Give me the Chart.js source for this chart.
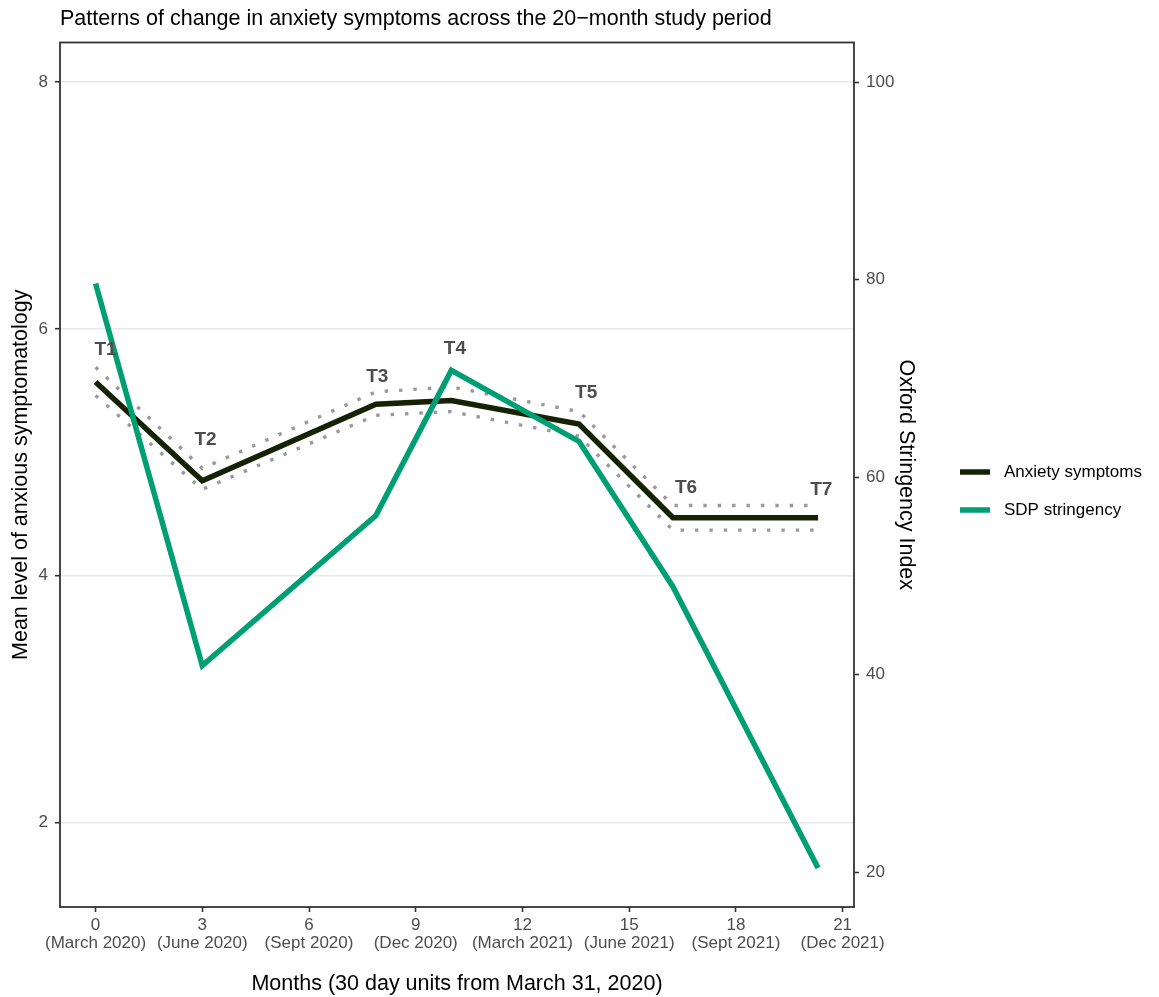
<!DOCTYPE html>
<html>
<head>
<meta charset="utf-8">
<script src="https://cdn.jsdelivr.net/npm/chart.js@4/dist/chart.umd.min.js"></script>
<style>
  html, body { margin: 0; padding: 0; background: #fff; }
  #wrap { position: relative; width: 1159px; height: 997px; }
</style>
</head>
<body>
<div id="wrap"><canvas id="anxietyChart"></canvas></div>
<script>
  // study waves, months since March 31 2020
  const waveLabels = ["T1", "T2", "T3", "T4", "T5", "T6", "T7"];
  const waveMonths = [0, 3, 7.88, 10, 13.59, 16.23, 20.31];
  const anxietyMean = [5.57, 4.77, 5.39, 5.42, 5.23, 4.47, 4.47];
  const anxietyUpper = [5.69, 4.87, 5.49, 5.53, 5.33, 4.57, 4.57];
  const anxietyLower = [5.46, 4.70, 5.30, 5.33, 5.13, 4.37, 4.37];
  const stringency = [79.6, 40.9, 56.1, 70.8, 63.6, 48.9, 20.4];

  // where the wave names sit (months, anxiety units)
  const labelMonths = [0.28, 3.09, 7.92, 10.1, 13.79, 16.6, 20.4];
  const labelLevels = [5.83, 5.10, 5.61, 5.84, 5.48, 4.71, 4.70];

  const monthTicks = [0, 3, 6, 9, 12, 15, 18, 21];
  const monthTickDates = ["(March 2020)", "(June 2020)", "(Sept 2020)", "(Dec 2020)",
    "(March 2021)", "(June 2021)", "(Sept 2021)", "(Dec 2021)"];
  const anxietyTicks = [2, 4, 6, 8];
  const stringencyTicks = [20, 40, 60, 80, 100];

  const FONT = "'Liberation Sans', Arial, Helvetica, sans-serif";
  const INK = "#152204";
  const GREEN = "#009E73";
  const GREY = "#999999";

  const toPoints = (ys) => waveMonths.map((m, i) => ({ x: m, y: ys[i] }));
  const fixTicks = (list) => (scale) => { scale.ticks = list.map((v) => ({ value: v })); };

  const decor = {
    id: "decor",
    afterDatasetsDraw(chart) {
      const { ctx, scales } = chart;
      ctx.save();
      ctx.font = "bold 19px " + FONT;
      ctx.fillStyle = "#4d4d4d";
      ctx.textAlign = "center";
      ctx.textBaseline = "middle";
      waveLabels.forEach((t, i) => {
        ctx.fillText(t, scales.x.getPixelForValue(labelMonths[i]), scales.y.getPixelForValue(labelLevels[i]));
      });
      ctx.restore();
    },
    afterDraw(chart) {
      const { ctx, chartArea: a } = chart;
      ctx.save();
      ctx.strokeStyle = "#333";
      ctx.lineWidth = 1.8;
      ctx.strokeRect(a.left, a.top, a.right - a.left, a.bottom - a.top);

      ctx.fillStyle = "#000";
      ctx.textBaseline = "middle";
      ctx.textAlign = "left";
      ctx.font = "21.5px " + FONT;
      ctx.fillText("Patterns of change in anxiety symptoms across the 20\u2212month study period", a.left, 19.5);

      // legend
      const keys = [["Anxiety symptoms", INK, 472], ["SDP stringency", GREEN, 510]];
      ctx.font = "17px " + FONT;
      keys.forEach(([txt, col, y]) => {
        ctx.strokeStyle = col;
        ctx.lineWidth = 5.5;
        ctx.beginPath();
        ctx.moveTo(a.right + 106, y);
        ctx.lineTo(a.right + 136, y);
        ctx.stroke();
        ctx.fillStyle = "#000";
        ctx.fillText(txt, a.right + 150, y);
      });
      ctx.restore();
    }
  };

  const tickFont = { family: FONT, size: 17, lineHeight: 1.06 };
  const titleFont = { family: FONT, size: 21.5 };

  new Chart(document.getElementById("anxietyChart"), {
    type: "line",
    data: {
      datasets: [
        {
          label: "SDP stringency",
          data: toPoints(stringency),
          yAxisID: "y1",
          borderColor: GREEN,
          borderWidth: 5.5,
          pointRadius: 0,
          tension: 0,
        },
        {
          label: "Anxiety symptoms",
          data: toPoints(anxietyMean),
          yAxisID: "y",
          borderColor: INK,
          borderWidth: 5.5,
          pointRadius: 0,
          tension: 0,
        },
        {
          label: "Upper",
          data: toPoints(anxietyUpper),
          yAxisID: "y",
          borderColor: GREY,
          borderWidth: 3.4,
          borderDash: [3.4, 11],
          pointRadius: 0,
          tension: 0,
        },
        {
          label: "Lower",
          data: toPoints(anxietyLower),
          yAxisID: "y",
          borderColor: GREY,
          borderWidth: 3.4,
          borderDash: [3.4, 11],
          pointRadius: 0,
          tension: 0,
        },
      ],
    },
    options: {
      responsive: true,
      maintainAspectRatio: false,
      animation: false,
      layout: { padding: { top: 42.5, right: 235, bottom: 0, left: 0 } },
      plugins: { legend: { display: false }, tooltip: { enabled: false } },
      scales: {
        x: {
          type: "linear",
          min: -1.0,
          max: 21.32,
          afterBuildTicks: fixTicks(monthTicks),
          afterFit: (s) => { s.height = 90; },
          ticks: {
            font: tickFont,
            color: "#4d4d4d",
            padding: 4,
            maxRotation: 0,
            autoSkip: false,
            callback: (v) => [String(v), monthTickDates[monthTicks.indexOf(v)]],
          },
          grid: { drawOnChartArea: false, tickLength: 5, tickColor: "#333", tickWidth: 1.6 },
          border: { display: false },
          title: {
            display: true,
            text: "Months (30 day units from March 31, 2020)",
            font: titleFont,
            color: "#000",
            padding: { top: 0, bottom: 0 },
          },
        },
        y: {
          position: "left",
          min: 1.317,
          max: 8.32,
          afterBuildTicks: fixTicks(anxietyTicks),
          afterFit: (s) => { s.width = 60; },
          ticks: { font: tickFont, color: "#4d4d4d", padding: 7 },
          grid: { color: "#e8e8e8", lineWidth: 1.4, tickLength: 5, tickColor: "#333", tickWidth: 1.6 },
          border: { display: false },
          title: {
            display: true,
            text: "Mean level of anxious symptomatology",
            font: titleFont,
            color: "#000",
            padding: { top: 7.7, bottom: 0 },
          },
        },
        y1: {
          position: "right",
          min: 16.46,
          max: 104.0,
          afterBuildTicks: fixTicks(stringencyTicks),
          afterFit: (s) => { s.width = 70; },
          ticks: { font: tickFont, color: "#4d4d4d", padding: 7 },
          grid: { drawOnChartArea: false, tickLength: 5, tickColor: "#333", tickWidth: 1.6 },
          border: { display: false },
          title: {
            display: true,
            text: "Oxford Stringency Index",
            font: titleFont,
            color: "#000",
            padding: { top: 5.1, bottom: 0 },
          },
        },
      },
    },
    plugins: [decor],
  });
</script>
</body>
</html>
